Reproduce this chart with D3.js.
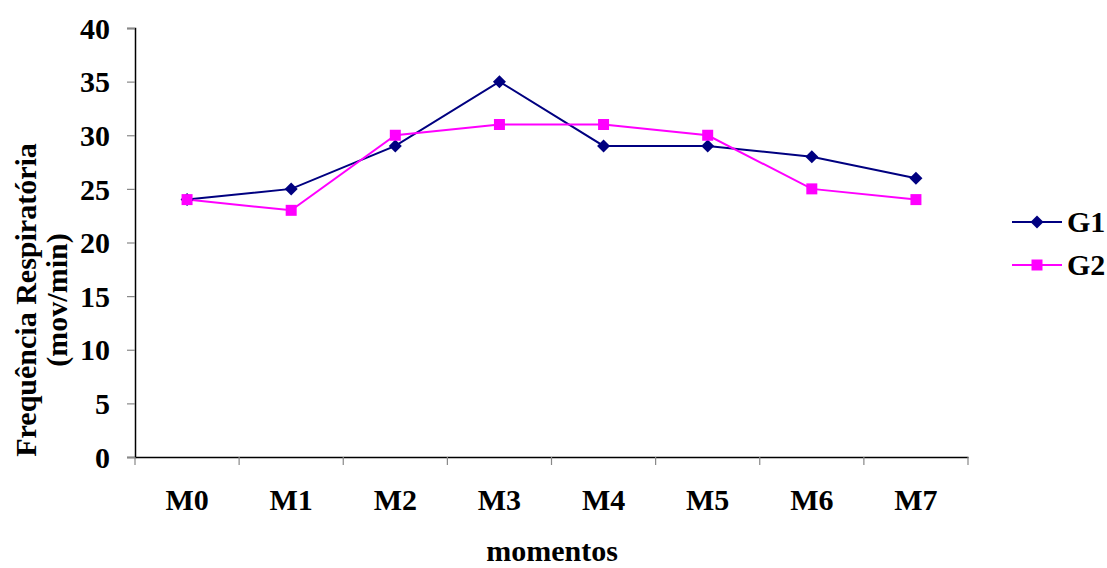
<!DOCTYPE html>
<html><head><meta charset="utf-8">
<script src="https://cdn.jsdelivr.net/npm/d3@7"></script>
<style>body{margin:0;background:#fff}svg{display:block}text{font-family:"Liberation Serif","Times New Roman",serif;font-weight:bold}</style>
</head><body><svg id="c" width="1107" height="568"></svg>
<script>
const categories = ["M0","M1","M2","M3","M4","M5","M6","M7"];
const g1 = [24,25,29,35,29,29,28,26];
const g2 = [24,23,30,31,31,30,25,24];
const yTicks = [0,5,10,15,20,25,30,35,40];
const seriesNames = ["G1","G2"];

const svg = d3.select("#c");
const L=135, R=968, T=28, B=457;
const FS = 30;
const x = d3.scaleBand().domain(categories).range([L,R]);
const y = d3.scaleLinear().domain([0,40]).range([B,T]);

// y axis
const ya = svg.append("g").attr("transform",`translate(${L},0)`)
  .call(d3.axisLeft(y).tickValues(yTicks).tickSize(8).tickPadding(17));
ya.select(".domain").attr("stroke","#000").attr("stroke-width",1.5);
ya.selectAll(".tick line").attr("stroke","#888").attr("stroke-width",1.2);
ya.selectAll("text").attr("font-size",FS).attr("fill","#000").attr("font-family","Liberation Serif").attr("font-weight","bold").attr("dy","0.34em");

// x axis
const xa = svg.append("g").attr("transform",`translate(0,${B})`)
  .call(d3.axisBottom(x).tickSize(0));
xa.select(".domain").attr("stroke","#000").attr("stroke-width",1.5);
xa.selectAll("text").attr("font-size",FS).attr("fill","#000").attr("font-family","Liberation Serif").attr("font-weight","bold").attr("y",53).attr("dy",0);
// band boundary ticks
const bounds = categories.map(c=>x(c)).concat([R]);
svg.append("g").selectAll("line").data(bounds).join("line")
  .attr("x1",d=>d).attr("x2",d=>d).attr("y1",B).attr("y2",B+8)
  .attr("stroke","#888").attr("stroke-width",1.2);

const cx = c => x(c)+x.bandwidth()/2;
const line = d3.line().x((d,i)=>cx(categories[i])).y(d=>y(d));

const series = [
  {name:seriesNames[0], values:g1, color:"#000080", shape:"diamond"},
  {name:seriesNames[1], values:g2, color:"#FF00FF", shape:"square"}
];
const shapePath = s => s==="diamond" ? "M0,-6.5L6.5,0L0,6.5L-6.5,0Z" : "M-5.5,-5.5H5.5V5.5H-5.5Z";

series.forEach(s=>{
  svg.append("path").datum(s.values).attr("d",line).attr("fill","none")
    .attr("stroke",s.color).attr("stroke-width",2);
});
series.forEach(s=>{
  svg.append("g").selectAll("path").data(s.values).join("path")
    .attr("transform",(d,i)=>`translate(${cx(categories[i])},${y(d)})`)
    .attr("d",shapePath(s.shape)).attr("fill",s.color);
});

// legend
series.forEach((s,i)=>{
  const ly = 222 + i*43;
  const g = svg.append("g");
  g.append("line").attr("x1",1012).attr("x2",1062).attr("y1",ly).attr("y2",ly).attr("stroke",s.color).attr("stroke-width",2);
  g.append("path").attr("transform",`translate(1037,${ly})`).attr("d",shapePath(s.shape)).attr("fill",s.color);
  g.append("text").attr("x",1067).attr("y",ly+10).attr("font-size",FS).text(s.name);
});

// titles
svg.append("text").attr("x",552).attr("y",561).attr("text-anchor","middle").attr("font-size",FS).text("momentos");
const yt = svg.append("text").attr("transform","translate(0,300) rotate(-90)").attr("text-anchor","middle").attr("font-size",FS);
yt.append("tspan").attr("x",0).attr("y",36).text("Frequência Respiratória");
yt.append("tspan").attr("x",0).attr("y",67).text("(mov/min)");
</script></body></html>
